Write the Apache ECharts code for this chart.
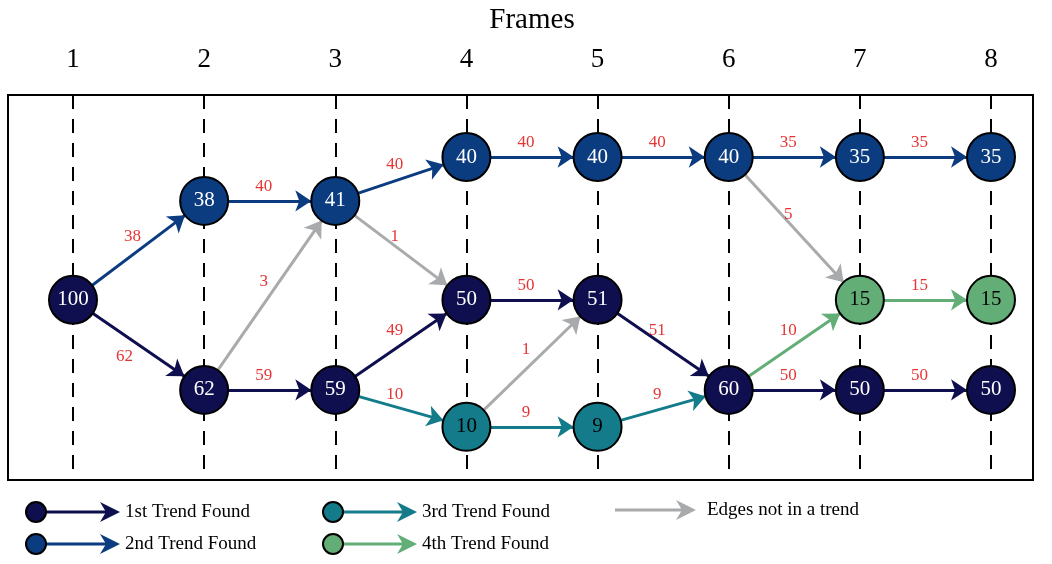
<!DOCTYPE html>
<html lang="en">
<head>
  <meta charset="UTF-8">
  <script src="https://cdn.jsdelivr.net/npm/echarts@6/dist/echarts.min.js"></script>
  <title>Trends</title>
</head>
<body style="margin:0">
  <div id="chart" style="width:1052px;height:564px"></div>
  <script>
    // frame labels
    const frames = ['1', '2', '3', '4', '5', '6', '7', '8'];
    // nodes: id, frame, row (vertical level), count, trend
    const nodeIds    = ['a1', 'b2', 'c2', 'b3', 'c3', 'a4', 'b4', 'd4', 'a5', 'b5', 'd5', 'a6', 'c6', 'a7', 'b7', 'c7', 'a8', 'b8', 'c8'];
    const nodeFrame  = [1, 2, 2, 3, 3, 4, 4, 4, 5, 5, 5, 6, 6, 7, 7, 7, 8, 8, 8];
    const nodeRow    = [5.32, 2.75, 7.66, 2.75, 7.66, 1.61, 5.32, 8.62, 1.61, 5.32, 8.62, 1.61, 7.66, 1.61, 5.32, 7.66, 1.61, 5.32, 7.66];
    const nodeCount  = [100, 38, 62, 41, 59, 40, 50, 10, 40, 51, 9, 40, 60, 35, 15, 50, 35, 15, 50];
    const nodeTrend  = [1, 2, 1, 2, 1, 2, 1, 3, 2, 1, 3, 2, 1, 2, 4, 1, 2, 4, 1];
    // edges: source, target, weight, trend (0 = not in a trend)
    const edgeFrom   = ['a1', 'a1', 'b2', 'c2', 'c2', 'b3', 'b3', 'c3', 'c3', 'a4', 'b4', 'd4', 'd4', 'a5', 'b5', 'd5', 'a6', 'a6', 'c6', 'c6', 'a7', 'b7', 'c7'];
    const edgeTo     = ['b2', 'c2', 'b3', 'b3', 'c3', 'a4', 'b4', 'b4', 'd4', 'a5', 'b5', 'b5', 'd5', 'a6', 'c6', 'c6', 'a7', 'b7', 'b7', 'c7', 'a8', 'b8', 'c8'];
    const edgeWeight = [38, 62, 40, 3, 59, 40, 1, 49, 10, 40, 50, 1, 9, 40, 51, 9, 35, 5, 10, 50, 35, 15, 50];
    const edgeTrend  = [2, 1, 2, 0, 1, 2, 0, 1, 3, 2, 1, 0, 3, 2, 1, 3, 2, 0, 4, 1, 2, 4, 1];
    const legendText = ['Edges not in a trend', '1st Trend Found', '2nd Trend Found', '3rd Trend Found', '4th Trend Found'];

    const colors = ['#a9aaac', '#0f0f4f', '#0b3c80', '#137b8a', '#63ae77'];
    const serif = 'Liberation Serif';

    const nodes = nodeIds.map((id, i) => ({
      name: id,
      value: [nodeFrame[i], nodeRow[i]],
      count: nodeCount[i],
      itemStyle: { color: colors[nodeTrend[i]] },
      label: { color: nodeTrend[i] >= 3 ? '#000' : '#fff' }
    }));
    const links = edgeFrom.map((s, i) => ({
      source: s,
      target: edgeTo[i],
      lineStyle: { color: colors[edgeTrend[i]] }
    }));
    // edge weight labels placed at each edge's midpoint
    const edgeLabels = edgeFrom.map((s, i) => {
      const a = nodeIds.indexOf(s), b = nodeIds.indexOf(edgeTo[i]);
      return {
        value: [(nodeFrame[a] + nodeFrame[b]) / 2, (nodeRow[a] + nodeRow[b]) / 2, edgeWeight[i]],
        label: { offset: edgeWeight[i] === 62 ? [-14, 12] : [-6, -14] }
      };
    });

    // legend built from graphic shapes
    const legendPos = [[615, 510, 0], [36, 512, 1], [36, 544, 2], [333, 512, 3], [333, 544, 4]];
    const graphic = [{
      type: 'rect', shape: { x: 8, y: 95, width: 1025, height: 385 },
      style: { fill: 'none', stroke: '#000', lineWidth: 2 }, z: 0
    }];
    legendPos.forEach(([x, y, k]) => {
      const x0 = k === 0 ? x : x + 10;
      const x1 = k === 0 ? x + 75 : x + 78;
      graphic.push({ type: 'line', shape: { x1: x0, y1: y, x2: x1 - 6, y2: y }, style: { stroke: colors[k], lineWidth: 3 } });
      graphic.push({ type: 'polygon', shape: { points: [[x1 - 14, y - 10], [x1 + 6, y], [x1 - 14, y + 10], [x1 - 8, y]] }, style: { fill: colors[k] } });
      if (k > 0) graphic.push({ type: 'circle', shape: { cx: x, cy: y, r: 10 }, style: { fill: colors[k], stroke: '#000', lineWidth: 2 } });
      graphic.push({ type: 'text', x: k === 0 ? x + 92 : x + 89, y: y, style: { text: legendText[k], font: '19px ' + serif, fill: '#000', verticalAlign: 'middle' } });
    });

    const chart = echarts.init(document.getElementById('chart'));
    chart.setOption({
      animation: false,
      grid: { left: 73, right: 61, top: 95, bottom: 84 },
      xAxis: {
        type: 'value', min: 1, max: 8, interval: 1, position: 'top',
        name: 'Frames', nameLocation: 'middle', nameGap: 60,
        nameTextStyle: { fontFamily: serif, fontSize: 29, color: '#000' },
        axisLine: { show: false }, axisTick: { show: false },
        axisLabel: { formatter: v => frames[v - 1], fontFamily: serif, fontSize: 27, color: '#000', margin: 22 },
        splitLine: { show: true, lineStyle: { type: [14, 10], color: '#000', width: 2 } }
      },
      yAxis: { type: 'value', min: 0, max: 10, inverse: true, show: false, splitLine: { show: false } },
      graphic: graphic,
      series: [{
        type: 'graph',
        coordinateSystem: 'cartesian2d',
        symbolSize: 48,
        z: 3,
        itemStyle: { borderColor: '#000', borderWidth: 2 },
        label: { show: true, formatter: p => p.data.count, fontFamily: serif, fontSize: 21 },
        edgeSymbol: ['none', 'arrow'],
        edgeSymbolSize: [0, 16],
        lineStyle: { width: 3, opacity: 1 },
        data: nodes,
        links: links
      }, {
        type: 'scatter',
        symbolSize: 0,
        z: 4,
        silent: true,
        label: { show: true, position: 'inside', formatter: p => p.data.value[2], color: '#e00000', fontFamily: serif, fontSize: 17 },
        data: edgeLabels
      }]
    });
  </script>
</body>
</html>
